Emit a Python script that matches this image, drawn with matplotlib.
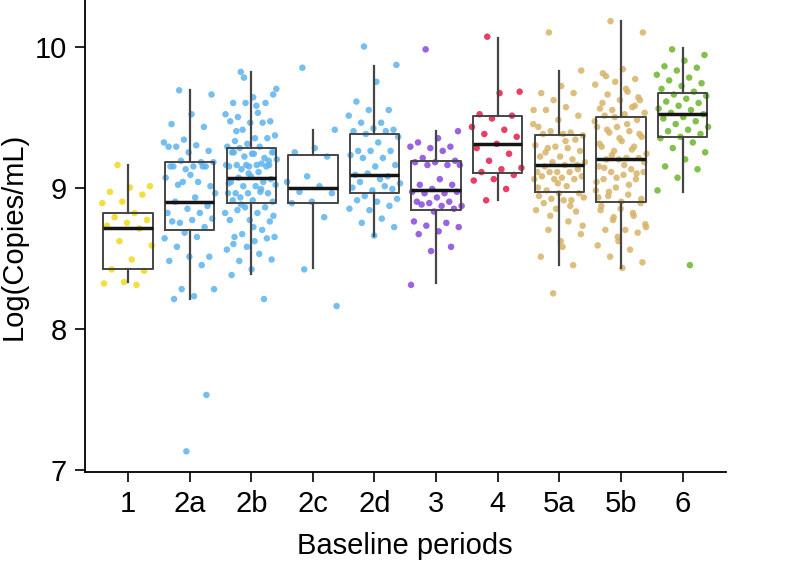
import numpy as np
import matplotlib
matplotlib.use("Agg")
import matplotlib.pyplot as plt

plt.rcParams['font.family'] = ['Liberation Sans', 'DejaVu Sans']

periods = ['1', '2a', '2b', '2c', '2d', '3', '4', '5a', '5b', '6']
colors = ['#f0d91c', '#5db4ee', '#5db4ee', '#5db4ee', '#5db4ee',
          '#8748de', '#e31d4b', '#d6b469', '#d6b469', '#6db52b']

# box stats: whislo, q1, median, q3, whishi
whislo = [8.33, 8.21, 8.39, 8.43, 8.66, 8.32, 8.91, 8.45, 8.43, 8.97]
q1 = [8.42, 8.70, 8.89, 8.89, 8.96, 8.84, 9.10, 8.97, 8.90, 9.36]
med = [8.71, 8.90, 9.07, 9.00, 9.09, 8.98, 9.31, 9.16, 9.20, 9.52]
q3 = [8.82, 9.18, 9.28, 9.23, 9.38, 9.19, 9.51, 9.37, 9.50, 9.67]
whishi = [9.16, 9.69, 9.82, 9.41, 9.86, 9.40, 10.06, 9.83, 10.18, 9.99]

# individual samples (log copies/mL)
p1 = [9.16, 9.01, 9.00, 8.97, 8.95, 8.90, 8.89, 8.82, 8.79, 8.77, 8.75,
      8.73, 8.71, 8.62, 8.59, 8.49, 8.42, 8.41, 8.33, 8.32, 8.31]
p2a = [9.69, 9.66, 9.52, 9.45, 9.43, 9.34, 9.32, 9.30, 9.29, 9.26, 9.25,
       9.29, 9.18, 9.19, 9.18, 9.15, 9.15, 9.15, 9.13, 9.07, 9.04, 9.02,
       9.01, 9.09, 9.15, 9.15, 9.04, 8.96, 8.93, 8.90, 8.87, 8.85, 8.82,
       8.82, 8.75, 8.78, 8.77, 8.76, 8.72, 8.68, 8.64, 8.65, 8.58, 8.51,
       8.51, 8.48, 8.45, 8.28, 8.28, 8.23, 8.21, 7.53, 7.13]
p2b = [9.82, 9.66, 9.64, 9.60, 9.60, 9.60, 9.52, 9.53, 9.50, 9.47, 9.46,
       9.47, 9.46, 9.41, 9.37, 9.35, 9.33, 9.35, 9.31, 9.29, 9.29, 9.28,
       9.25, 9.24, 9.25, 9.21, 9.22, 9.20, 9.16, 9.16, 9.16, 9.15, 9.15,
       9.17, 9.13, 9.25, 9.24, 9.25, 9.15, 9.16, 9.16, 9.11, 9.07, 9.06,
       9.08, 9.04, 9.04, 9.01, 9.02, 9.01, 8.96, 8.96, 8.96, 8.96, 8.97,
       8.93, 8.90, 8.91, 8.91, 8.86, 8.86, 8.82, 8.82, 8.84, 8.76, 8.77,
       8.77, 8.70, 8.67, 8.65, 8.62, 8.65, 8.64, 8.58, 8.56, 8.53, 8.48,
       8.49, 8.42, 8.38, 8.21, 9.78, 9.70, 9.58, 9.40, 9.19, 9.10, 9.03,
       8.99, 8.88, 8.80, 8.72, 8.60]
p2c = [9.85, 9.41, 9.28, 9.25, 9.22, 9.08, 9.04, 9.01, 8.97, 8.96, 8.90,
       8.89, 8.79, 8.42, 8.16]
p2d = [10.00, 9.87, 9.75, 9.61, 9.55, 9.55, 9.51, 9.46, 9.46, 9.41, 9.42,
       9.40, 9.40, 9.38, 9.36, 9.32, 9.26, 9.26, 9.26, 9.23, 9.21, 9.21,
       9.16, 9.15, 9.09, 9.08, 9.10, 9.03, 9.06, 9.04, 8.99, 8.98, 9.00,
       9.01, 8.94, 8.92, 8.90, 8.91, 8.87, 8.84, 8.85, 8.78, 8.75, 8.72,
       8.66]
p3 = [9.98, 9.40, 9.35, 9.32, 9.29, 9.28, 9.29, 9.26, 9.21, 9.19, 9.18,
      9.18, 9.16, 9.16, 9.16, 9.06, 9.02, 9.02, 8.99, 8.97, 8.96, 8.96,
      8.97, 8.93, 8.90, 8.90, 8.89, 8.87, 8.87, 8.88, 8.85, 8.83, 8.76,
      8.75, 8.73, 8.72, 8.69, 8.67, 8.58, 8.55, 8.31]
p4 = [10.07, 9.68, 9.67, 9.52, 9.51, 9.49, 9.43, 9.41, 9.38, 9.36, 9.31,
      9.28, 9.24, 9.19, 9.14, 9.13, 9.11, 9.09, 9.06, 9.05, 8.99, 8.91]
p5a = [10.10, 9.83, 9.72, 9.67, 9.67, 9.62, 9.55, 9.57, 9.55, 9.51, 9.48,
       9.43, 9.39, 9.40, 9.37, 9.38, 9.38, 9.34, 9.29, 9.30, 9.28, 9.28,
       9.26, 9.22, 9.22, 9.20, 9.18, 9.18, 9.16, 9.15, 9.16, 9.11, 9.11,
       9.11, 9.11, 9.08, 9.07, 9.08, 9.06, 9.06, 9.06, 9.01, 8.98, 8.96,
       8.96, 8.94, 8.91, 8.92, 8.93, 8.91, 8.89, 8.83, 8.85, 8.84, 8.76,
       8.70, 8.67, 8.62, 8.51, 8.45, 8.25, 9.45, 9.33, 9.25, 9.13, 9.03,
       9.00, 8.87, 8.80, 8.73, 8.58]
p5b = [10.18, 10.10, 9.84, 9.81, 9.77, 9.75, 9.73, 9.68, 9.66, 9.62, 9.62,
       9.56, 9.57, 9.55, 9.53, 9.52, 9.51, 9.48, 9.43, 9.43, 9.40, 9.39,
       9.36, 9.33, 9.29, 9.29, 9.26, 9.24, 9.21, 9.20, 9.21, 9.20, 9.15,
       9.13, 9.11, 9.11, 9.09, 9.06, 9.06, 9.00, 8.98, 8.95, 8.94, 8.89,
       8.85, 8.84, 8.82, 8.77, 8.74, 8.70, 8.70, 8.68, 8.65, 8.59, 8.56,
       8.51, 8.47, 8.43, 9.60, 9.58, 9.50, 9.47, 9.45, 9.41, 9.38, 9.35,
       9.31, 9.27, 9.23, 9.18, 9.16, 9.14, 9.10, 9.07, 9.04, 9.02, 8.97,
       8.92, 8.90, 8.87, 8.80, 8.79, 8.72, 9.70, 9.79, 9.64, 8.62, 8.93]
p6 = [9.98, 9.94, 9.90, 9.86, 9.85, 9.83, 9.80, 9.78, 9.76, 9.74, 9.72,
      9.70, 9.68, 9.66, 9.65, 9.63, 9.61, 9.60, 9.58, 9.56, 9.55, 9.53,
      9.52, 9.50, 9.49, 9.47, 9.45, 9.43, 9.41, 9.40, 9.38, 9.36, 9.35,
      9.32, 9.28, 9.25, 9.20, 9.15, 9.13, 9.07, 8.98, 8.45]
samples = [p1, p2a, p2b, p2c, p2d, p3, p4, p5a, p5b, p6]

fig = plt.figure(figsize=(8.01, 5.63), dpi=100)
ax = fig.add_axes([0.106, 0.162, 0.80, 0.838])

pos = np.arange(1, len(periods) + 1)

# jittered points (deterministic spread)
for i, vals in enumerate(samples):
    n = len(vals)
    off = ((np.arange(n) * 0.6180339887 + 0.3) % 1.0 - 0.5) * 0.85
    ax.scatter(pos[i] + off, vals, s=22, color=colors[i], alpha=0.85,
               edgecolors='none', zorder=2)

stats = []
for i in range(len(periods)):
    stats.append(dict(whislo=whislo[i], q1=q1[i], med=med[i], q3=q3[i],
                      whishi=whishi[i], label=periods[i]))

ax.bxp(stats, positions=pos, widths=0.8, showfliers=False, showcaps=False,
       patch_artist=False,
       boxprops=dict(color='#454545', linewidth=1.4),
       whiskerprops=dict(color='#454545', linewidth=1.6),
       medianprops=dict(color='#151515', linewidth=2.5),
       zorder=3)

ax.set_xlim(0.3, 10.7)
ax.set_ylim(6.985, 10.33)
ax.set_yticks([7, 8, 9, 10])
ax.set_yticklabels(['7', '8', '9', '10'])
ax.set_xticks(pos)
ax.set_xticklabels(periods)

for s in ['top', 'right']:
    ax.spines[s].set_visible(False)
for s in ['left', 'bottom']:
    ax.spines[s].set_linewidth(1.3)

ax.tick_params(axis='both', labelsize=21, length=7, width=1.2,
               direction='out', pad=6)
ax.set_xlabel('Baseline periods', fontsize=21, labelpad=10)
ax.set_ylabel('Log(Copies/mL)', fontsize=21, labelpad=5)

fig.savefig('out.png', dpi=100)
